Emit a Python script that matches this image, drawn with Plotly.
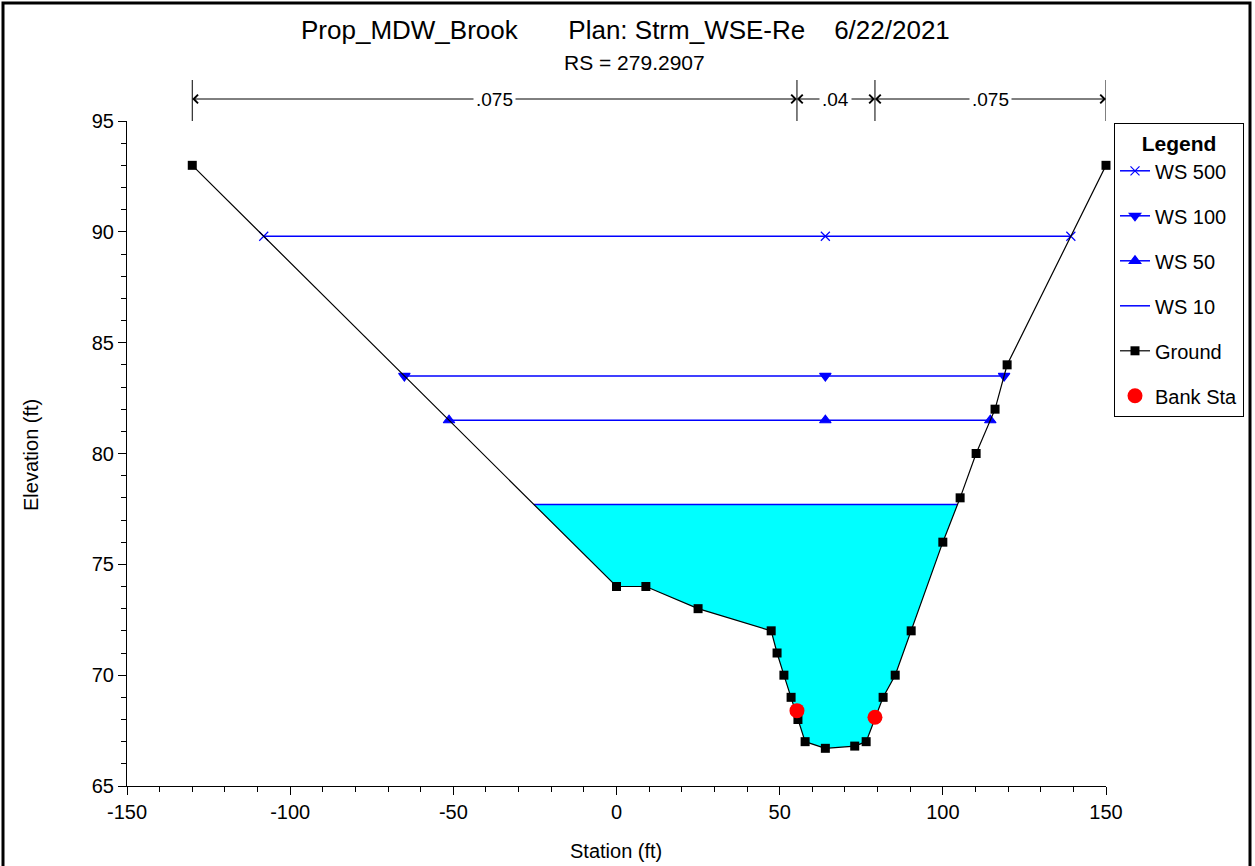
import numpy as np
import plotly.graph_objects as go

# ---------------- data ----------------
ground_sta = [-130, 0, 9, 25, 47.4, 49.2, 51.3, 53.5, 55.6, 57.8, 64, 73, 76.5,
              81.7, 85.4, 90.3, 100, 105.3, 110.2, 116, 119.7, 150]
ground_elev = [93, 74, 74, 73, 72, 71, 70, 69, 68, 67, 66.7, 66.8, 67,
               69, 70, 72, 76, 78, 80, 82, 84, 93]
bank_sta = [55.3, 79.2]
bank_elev = [68.4, 68.1]
ws_names = ["WS 500", "WS 100", "WS 50", "WS 10"]
ws_elev = [89.8, 83.5, 81.5, 77.7]
ws_symbols = ["x-thin", "triangle-down", "triangle-up", None]
n_bounds = [-130, 55.3, 79.2, 150]
n_values = [".075", ".04", ".075"]
x_ticks = [-150, -100, -50, 0, 50, 100, 150]
x_ticktext = ["-150", "-100", "-50", "0", "50", "100", "150"]

FONT = "Liberation Sans, Arial, sans-serif"
BLUE = "#0000FF"

gs = np.array(ground_sta, float)
ge = np.array(ground_elev, float)
thalweg = gs[np.argmin(ge)]


def crossings(level):
    xs = []
    for i in range(len(gs) - 1):
        y0, y1 = ge[i], ge[i + 1]
        if (y0 - level) * (y1 - level) <= 0 and y0 != y1:
            t = (level - y0) / (y1 - y0)
            xs.append(gs[i] + t * (gs[i + 1] - gs[i]))
    return min(xs), max(xs)


fig = go.Figure()

# fill for lowest water surface
lo = ws_elev[-1]
l, r = crossings(lo)
mask = (gs > l) & (gs < r)
px = [l] + list(gs[mask]) + [r]
py = [lo] + list(ge[mask]) + [lo]
fig.add_trace(go.Scatter(x=px, y=py, fill="toself", fillcolor="#00FFFF",
                         mode="lines", line=dict(width=0, color="#00FFFF"),
                         showlegend=False, hoverinfo="skip"))

for i, (name, el, sym) in enumerate(zip(ws_names, ws_elev, ws_symbols)):
    l, r = crossings(el)
    if sym:
        mk = dict(symbol=sym, size=10 if sym != "x-thin" else 9, color=BLUE,
                  line=dict(color=BLUE, width=1.2))
        mode = "lines+markers"
    else:
        mk = None
        mode = "lines"
    fig.add_trace(go.Scatter(x=[l, thalweg, r], y=[el, el, el], mode=mode,
                             name=name, line=dict(color=BLUE, width=1.5),
                             marker=mk, legendgroup=name, legendrank=i + 1,
                             cliponaxis=False))

fig.add_trace(go.Scatter(x=ground_sta, y=ground_elev, mode="lines+markers",
                         name="Ground", line=dict(color="black", width=1.2),
                         marker=dict(symbol="square", size=9, color="black"),
                         legendgroup="g", legendrank=5, cliponaxis=False))
fig.add_trace(go.Scatter(x=bank_sta, y=bank_elev, mode="markers",
                         name="Bank Sta",
                         marker=dict(symbol="circle", size=15, color="#FF0000"),
                         legendgroup="b", legendrank=6))

# Manning's n brackets
yl = 1 + 22 / 665
shapes = []
for b in n_bounds:
    shapes.append(dict(type="line", xref="x", yref="paper", x0=b, x1=b,
                       y0=1.0, y1=1 + 41 / 665, line=dict(color="black", width=1)))
annotations = []
for a, b, v in zip(n_bounds[:-1], n_bounds[1:], n_values):
    m = (a + b) / 2
    for end in (a, b):
        annotations.append(dict(x=end, y=yl, xref="x", yref="paper", ax=m, ay=0,
                                axref="x", ayref="pixel", text="", showarrow=True,
                                arrowhead=4, arrowsize=1.7, arrowwidth=1,
                                arrowcolor="black", standoff=0, startstandoff=0))
    annotations.append(dict(x=m, y=yl, xref="x", yref="paper", text=v,
                            showarrow=False, bgcolor="white", yanchor="middle",
                            xanchor="center", borderpad=2,
                            font=dict(family=FONT, size=19, color="black")))

# titles
annotations.append(dict(x=(625 - 127) / 979, y=1 + (121 - 30) / 665, xref="paper", yref="paper",
                        xanchor="center", yanchor="middle",
                        text="Prop_MDW_Brook\u00a0\u00a0\u00a0\u00a0\u00a0\u00a0\u00a0Plan: Strm_WSE-Re\u00a0\u00a0\u00a0\u00a06/22/2021",
                        showarrow=False, font=dict(family=FONT, size=26, color="black")))
annotations.append(dict(x=(634 - 127) / 979, y=1 + (121 - 62) / 665, xref="paper", yref="paper",
                        xanchor="center", yanchor="middle",
                        text="RS = 279.2907", showarrow=False,
                        font=dict(family=FONT, size=21, color="black")))
annotations.append(dict(x=(616 - 127) / 979, y=-(851 - 786) / 665, xref="paper", yref="paper",
                        xanchor="center", yanchor="middle",
                        text="Station (ft)", showarrow=False,
                        font=dict(family=FONT, size=20, color="black")))
annotations.append(dict(x=(31 - 127) / 979, y=(786 - 455) / 665, xref="paper", yref="paper",
                        xanchor="center", yanchor="middle",
                        text="Elevation (ft)", showarrow=False, textangle=-90,
                        font=dict(family=FONT, size=20, color="black")))

# outer frame
shapes.append(dict(type="rect", xref="paper", yref="paper",
                   x0=(3 - 127) / 979, x1=(1250 - 127) / 979,
                   y0=(786 - 880) / 665, y1=1 + (121 - 3) / 665,
                   line=dict(color="black", width=3)))

fig.update_layout(
    width=1255, height=866,
    margin=dict(l=127, r=149, t=121, b=80, autoexpand=False),
    paper_bgcolor="white", plot_bgcolor="white",
    font=dict(family=FONT, size=20, color="black"),
    shapes=shapes, annotations=annotations,
    showlegend=True,
    legend=dict(x=(1114 - 127) / 979, y=1 - 2 / 665, xanchor="left", yanchor="top",
                bordercolor="black", borderwidth=1, bgcolor="white",
                title=dict(text="<b>Legend</b>", side="top center",
                           font=dict(family=FONT, size=21)),
                font=dict(family=FONT, size=20), tracegroupgap=16,
                itemwidth=30),
)
fig.update_xaxes(range=[-150, 150], tickvals=x_ticks, ticktext=x_ticktext,
                 showgrid=False, zeroline=False, showline=True, linecolor="black",
                 linewidth=1, ticks="outside", ticklen=8, tickcolor="black",
                 tickfont=dict(family=FONT, size=20),
                 minor=dict(dtick=10, ticks="outside", ticklen=5, tickcolor="black"))
fig.update_yaxes(range=[65, 95], dtick=5, tick0=65,
                 showgrid=False, zeroline=False, showline=True, linecolor="black",
                 linewidth=1, ticks="outside", ticklen=8, tickcolor="black",
                 tickfont=dict(family=FONT, size=20),
                 minor=dict(dtick=1, ticks="outside", ticklen=5, tickcolor="black"))

fig.write_html("out.html")
